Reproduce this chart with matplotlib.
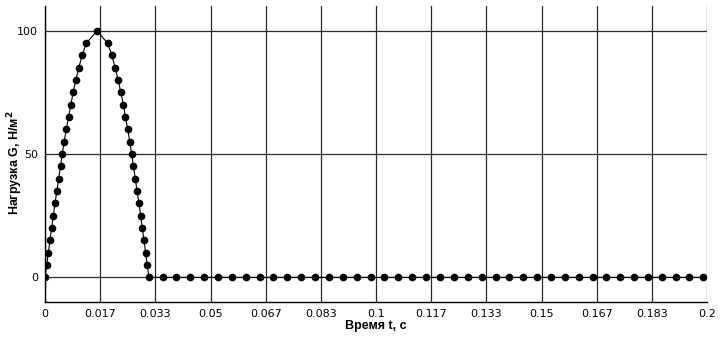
import matplotlib
matplotlib.use('Agg')
import matplotlib.pyplot as plt

# pulse (rising part)
t_rise = [0.0, 0.0005, 0.0010, 0.0015, 0.0020, 0.0025, 0.0030, 0.0036, 0.0041, 0.0047,
          0.0052, 0.0058, 0.0064, 0.0071, 0.0078, 0.0085, 0.0093, 0.0102, 0.0112, 0.0125, 0.0157]
g_rise = [0, 5, 10, 15, 20, 25, 30, 35, 40, 45, 50, 55, 60, 65, 70, 75, 80, 85, 90, 95, 100]

# pulse (falling part)
t_fall = [0.0189, 0.0202, 0.0212, 0.0221, 0.0229, 0.0237, 0.0243, 0.0250, 0.0256, 0.0262,
          0.0267, 0.0273, 0.0278, 0.0284, 0.0289, 0.0294, 0.0299, 0.0304, 0.0309, 0.0314]
g_fall = [95, 90, 85, 80, 75, 70, 65, 60, 55, 50, 45, 40, 35, 30, 25, 20, 15, 10, 5, 0]

# after the pulse the load is zero
t_zero = [0.0355, 0.0397, 0.0439, 0.0481, 0.0523, 0.0565, 0.0606, 0.0648, 0.0690, 0.0732,
          0.0774, 0.0816, 0.0858, 0.0900, 0.0942, 0.0984, 0.1025, 0.1067, 0.1109, 0.1151,
          0.1193, 0.1235, 0.1277, 0.1319, 0.1361, 0.1403, 0.1444, 0.1486, 0.1528, 0.1570,
          0.1612, 0.1654, 0.1696, 0.1738, 0.1780, 0.1822, 0.1863, 0.1905, 0.1947, 0.1989]
g_zero = [0] * len(t_zero)

xticks = [0, 1/60, 2/60, 3/60, 4/60, 5/60, 6/60, 7/60, 8/60, 9/60, 10/60, 11/60, 12/60]
xtick_labels = ['0', '0.017', '0.033', '0.05', '0.067', '0.083', '0.1', '0.117',
                '0.133', '0.15', '0.167', '0.183', '0.2']
yticks = [0, 50, 100]

t = t_rise + t_fall + t_zero
g = g_rise + g_fall + g_zero

fig = plt.figure(figsize=(7.2, 3.39), dpi=100)
ax = fig.add_axes([0.0625, 0.109, 0.9195, 0.873])

ax.plot(t, g, color='black', lw=0.8, marker='o', ms=4.5, zorder=3)

ax.set_xlim(0, 0.2)
ax.set_ylim(-10, 110)
ax.set_xticks(xticks)
ax.set_xticklabels(xtick_labels)
ax.set_yticks(yticks)
ax.grid(True, color='#2a2a2a', lw=0.9)
ax.tick_params(length=0, labelsize=8, pad=5)

for s in ['top', 'right']:
    ax.spines[s].set_visible(False)
for s in ['left', 'bottom']:
    ax.spines[s].set_linewidth(1.0)

ax.set_xlabel('Время t, с', fontsize=9, fontweight='bold', family='Liberation Sans', labelpad=1)
ax.set_ylabel('Нагрузка G, Н/м$^\\mathbf{2}$', fontsize=9, fontweight='bold',
              family='Liberation Sans')
ax.yaxis.set_label_coords(-0.030, 0.47)

fig.savefig('out.png', dpi=100)
